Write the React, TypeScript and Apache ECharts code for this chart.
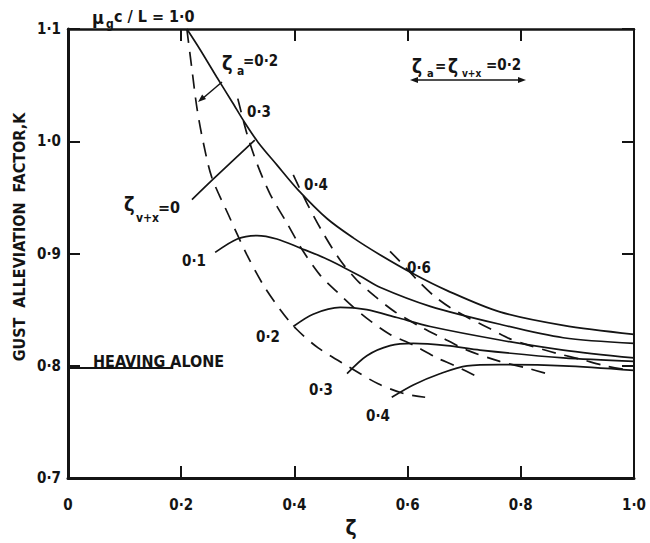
import React, { useEffect, useRef } from "react";
import * as echarts from "echarts";

// ---------- data (ζ on x, gust alleviation factor K on y) ----------
const xTickValues = [0, 0.2, 0.4, 0.6, 0.8, 1.0];
const yTickValues = [0.7, 0.8, 0.9, 1.0, 1.1];

// solid: upper curve (ζ_v+x = 0)
const envelopeZvx0 = [
  [0.21, 1.1], [0.233, 1.082], [0.263, 1.057], [0.29, 1.035], [0.313, 1.016],
  [0.336, 0.999], [0.369, 0.979], [0.406, 0.957], [0.458, 0.931], [0.504, 0.914],
  [0.551, 0.899], [0.61, 0.882], [0.67, 0.867], [0.763, 0.848], [0.875, 0.836], [1.0, 0.828],
];
// solid: rising branch of ζ_v+x = 0
const riseZvx0 = [[0.219, 0.948], [0.256, 0.966], [0.33, 1.001]];
// solid: ζ_v+x = 0.1 … 0.4
const zvx01 = [
  [0.26, 0.901], [0.299, 0.913], [0.334, 0.916], [0.369, 0.913], [0.41, 0.905],
  [0.458, 0.895], [0.516, 0.88], [0.551, 0.87], [0.64, 0.853], [0.763, 0.837],
  [0.875, 0.825], [1.0, 0.82],
];
const zvx02 = [
  [0.398, 0.835], [0.433, 0.846], [0.481, 0.852], [0.528, 0.85], [0.581, 0.843],
  [0.64, 0.835], [0.763, 0.823], [0.875, 0.814], [1.0, 0.807],
];
const zvx03 = [
  [0.493, 0.793], [0.528, 0.809], [0.569, 0.818], [0.61, 0.82], [0.67, 0.818],
  [0.728, 0.814], [0.875, 0.807], [1.0, 0.804],
];
const zvx04 = [
  [0.572, 0.772], [0.61, 0.783], [0.657, 0.793], [0.705, 0.8], [0.763, 0.801],
  [0.875, 0.8], [1.0, 0.796],
];
// dashed: ζ_a = 0.2, 0.3, 0.4, 0.6
const za02 = [
  [0.21, 1.1], [0.219, 1.064], [0.228, 1.029], [0.239, 0.999], [0.254, 0.968],
  [0.283, 0.935], [0.315, 0.9], [0.345, 0.872], [0.375, 0.85], [0.403, 0.833],
  [0.442, 0.816], [0.493, 0.8], [0.548, 0.784], [0.595, 0.775], [0.631, 0.772],
];
const za03 = [
  [0.3, 1.038], [0.316, 1.007], [0.334, 0.98], [0.357, 0.953], [0.387, 0.927],
  [0.413, 0.904], [0.445, 0.881], [0.475, 0.866], [0.507, 0.851], [0.534, 0.84],
  [0.569, 0.828], [0.608, 0.819], [0.652, 0.807], [0.684, 0.8], [0.728, 0.789],
];
const za04 = [
  [0.398, 0.97], [0.422, 0.945], [0.451, 0.918], [0.481, 0.894], [0.511, 0.876],
  [0.542, 0.862], [0.578, 0.848], [0.622, 0.835], [0.657, 0.826], [0.705, 0.814],
  [0.763, 0.804], [0.811, 0.798], [0.846, 0.793],
];
const za06 = [
  [0.569, 0.902], [0.592, 0.89], [0.618, 0.876], [0.645, 0.863], [0.675, 0.852],
  [0.71, 0.842], [0.746, 0.833], [0.781, 0.824], [0.816, 0.818], [0.864, 0.811],
  [0.905, 0.806], [0.949, 0.8], [0.993, 0.796],
];
// heaving alone reference level
const heavingAlone = [[0, 0.798], [0.186, 0.798]];

// ---------- styling ----------
const FONT = '"DejaVu Sans Condensed", "Liberation Sans Narrow", "DejaVu Sans", sans-serif';
const INK = "#141414";

const fmt = (v: number) => (v === 0 ? "0" : v.toFixed(1).replace(".", "·"));

const solid = (name: string, data: number[][], width = 1.7) => ({
  name,
  type: "line",
  data,
  smooth: 0.3,
  showSymbol: false,
  symbol: "none",
  silent: true,
  lineStyle: { color: INK, width },
});
const dashed = (name: string, data: number[][]) => ({
  name,
  type: "line",
  data,
  smooth: 0.3,
  showSymbol: false,
  symbol: "none",
  silent: true,
  lineStyle: { color: INK, width: 1.7, type: [14, 9] },
});

const txt = (x: number, y: number, text: string, size = 15, extra: any = {}) => ({
  type: "text",
  x,
  y,
  silent: true,
  style: {
    text,
    fontSize: size,
    fontWeight: "bold",
    fontFamily: FONT,
    fill: INK,
    align: "left",
    verticalAlign: "middle",
    ...extra,
  },
});

const seg = (x1: number, y1: number, x2: number, y2: number, w = 1.5) => ({
  type: "line",
  silent: true,
  shape: { x1, y1, x2, y2 },
  style: { stroke: INK, lineWidth: w },
});

const head = (x: number, y: number, dx: number, dy: number, len = 8, half = 3) => {
  const n = Math.hypot(dx, dy);
  const ux = dx / n, uy = dy / n;
  const bx = x - ux * len, by = y - uy * len;
  return {
    type: "polygon",
    silent: true,
    shape: { points: [[x, y], [bx - uy * half, by + ux * half], [bx + uy * half, by - ux * half]] },
    style: { fill: INK },
  };
};

export default function App() {
  const ref = useRef<HTMLDivElement>(null);
  useEffect(() => {
    if (!ref.current) return;
    const chart = echarts.init(ref.current, undefined, { renderer: "svg" });
    const axisCommon = {
      type: "value",
      splitLine: { show: false },
    };
    chart.setOption({
      animation: false,
      backgroundColor: "#ffffff",
      grid: { left: 68, right: 16, top: 29, bottom: 56 },
      xAxis: [
        {
          ...axisCommon,
          min: xTickValues[0],
          max: xTickValues[xTickValues.length - 1],
          interval: 0.2,
          position: "bottom",
          name: "ζ",
          nameLocation: "middle",
          nameGap: 28,
          nameTextStyle: { fontSize: 21, fontWeight: "bold", fontFamily: FONT, color: INK },
          axisLine: { show: true, onZero: false, lineStyle: { color: INK, width: 3 } },
          axisTick: { show: true, inside: true, length: 12, lineStyle: { color: INK, width: 2 } },
          axisLabel: { margin: 19, formatter: fmt, fontSize: 15, fontWeight: "bold", fontFamily: FONT, color: INK },
        },
        {
          ...axisCommon,
          min: xTickValues[0],
          max: xTickValues[xTickValues.length - 1],
          interval: 0.2,
          position: "top",
          axisLine: { show: true, onZero: false, lineStyle: { color: INK, width: 2.5 } },
          axisTick: { show: true, inside: true, length: 12, lineStyle: { color: INK, width: 2 } },
          axisLabel: { show: false },
        },
      ],
      yAxis: [
        {
          ...axisCommon,
          min: yTickValues[0],
          max: yTickValues[yTickValues.length - 1],
          interval: 0.1,
          position: "left",
          axisLine: { show: true, onZero: false, lineStyle: { color: INK, width: 3 } },
          axisTick: { show: true, inside: true, length: 12, lineStyle: { color: INK, width: 2 } },
          axisLabel: { margin: 7, formatter: fmt, fontSize: 15, fontWeight: "bold", fontFamily: FONT, color: INK },
        },
        {
          ...axisCommon,
          min: yTickValues[0],
          max: yTickValues[yTickValues.length - 1],
          interval: 0.1,
          position: "right",
          axisLine: { show: true, onZero: false, lineStyle: { color: INK, width: 2 } },
          axisTick: { show: true, inside: true, length: 12, lineStyle: { color: INK, width: 2 } },
          axisLabel: { show: false },
        },
      ],
      series: [
        solid("ζv+x = 0 (upper)", envelopeZvx0),
        solid("ζv+x = 0 (rise)", riseZvx0),
        solid("ζv+x = 0.1", zvx01),
        solid("ζv+x = 0.2", zvx02),
        solid("ζv+x = 0.3", zvx03),
        solid("ζv+x = 0.4", zvx04),
        dashed("ζa = 0.2", za02),
        dashed("ζa = 0.3", za03),
        dashed("ζa = 0.4", za04),
        dashed("ζa = 0.6", za06),
        solid("Heaving alone", heavingAlone, 2),
      ],
      graphic: [
        // y-axis title
        {
          type: "text",
          x: 19,
          y: 237,
          rotation: Math.PI / 2,
          silent: true,
          style: {
            text: "GUST  ALLEVIATION  FACTOR,K",
            fontSize: 16,
            fontWeight: "bold",
            fontFamily: FONT,
            fill: INK,
            align: "center",
            verticalAlign: "middle",
          },
        },
        // μg c / L = 1·0
        txt(92, 17, "μ", 18),
        txt(106, 24, "g", 12),
        txt(114, 16, "c / L = 1·0", 16),
        // ζa = ζv+x = 0·2 with double arrow
        txt(412, 66, "ζ", 19),
        txt(427, 73, "a", 11),
        txt(435, 66, "=", 15),
        txt(448, 66, "ζ", 19),
        txt(462, 73, "v+x", 10),
        txt(486, 65, "=0·2", 15),
        seg(414, 80, 522, 80, 1.5),
        head(410, 80, -1, 0),
        head(526, 80, 1, 0),
        // ζa = 0·2 with arrow
        txt(222, 63, "ζ", 20),
        txt(237, 71, "a", 12),
        txt(243, 61, "=0·2", 15),
        seg(222, 82, 202, 99, 1.5),
        head(198, 102, -20, 17),
        // dashed line labels
        txt(247, 112, "0·3"),
        txt(304, 185, "0·4"),
        txt(407, 268, "0·6"),
        // ζv+x = 0
        txt(124, 204, "ζ", 20),
        txt(136, 218, "v+x", 12),
        txt(158, 207, "=0", 16),
        // solid curve labels
        txt(182, 261, "0·1"),
        txt(256, 337, "0·2"),
        txt(309, 390, "0·3"),
        txt(366, 416, "0·4"),
        txt(93, 361, "HEAVING ALONE", 16),
      ],
    });
    return () => chart.dispose();
  }, []);
  return (
    <div
      ref={ref}
      style={{ position: "fixed", left: 0, top: 0, width: 650, height: 543, background: "#fff" }}
    />
  );
}
